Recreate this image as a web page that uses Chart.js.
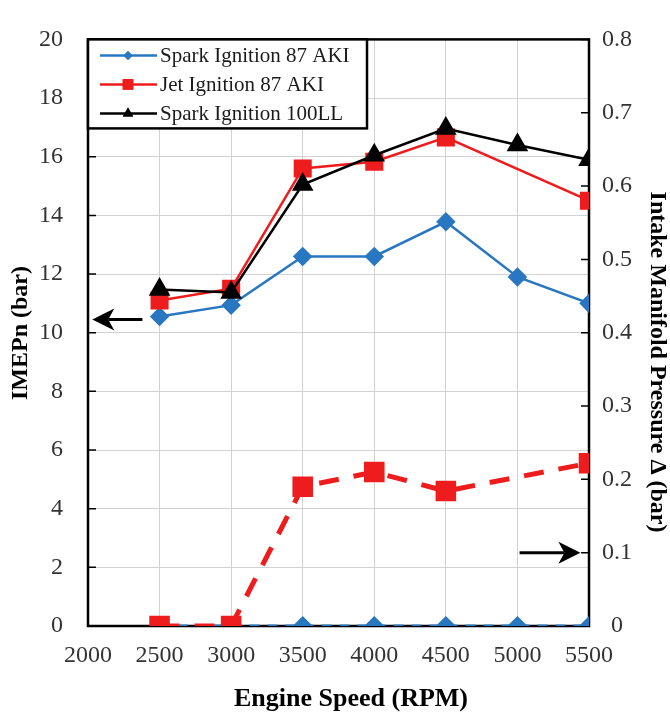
<!DOCTYPE html>
<html>
<head>
<meta charset="utf-8">
<script src="https://cdn.jsdelivr.net/npm/chart.js@4.4.0/dist/chart.umd.min.js"></script>
<style>
  html, body { margin: 0; padding: 0; background: #ffffff; }
  #wrap { width: 670px; height: 722px; position: relative; }
</style>
</head>
<body>
<div id="wrap"><canvas id="chart"></canvas></div>
<script>
// Engine speed sweep (RPM)
const engineSpeed = [2500, 3000, 3500, 4000, 4500, 5000, 5500];

// IMEPn (bar), left axis
const imepSpark87 = [10.55, 10.94, 12.6, 12.6, 13.78, 11.9, 11.0];
const imepJet87 = [11.1, 11.5, 15.6, 15.83, 16.66, null, 14.5];
const imepSpark100LL = [11.47, 11.37, 15.05, 16.05, 16.96, 16.4, 15.9];

// Intake manifold pressure delta (bar), right axis
const deltaSpark87 = [0, 0, 0, 0, 0, 0, 0];
const deltaJet87 = [0, 0, 0.19, 0.21, 0.184, null, 0.222];

// Axis ticks and labels
const xTickValues = [2000, 2500, 3000, 3500, 4000, 4500, 5000, 5500];
const leftTickLabels = ['0', '2', '4', '6', '8', '10', '12', '14', '16', '18', '20'];
const rightTickLabels = ['0', '0.1', '0.2', '0.3', '0.4', '0.5', '0.6', '0.7', '0.8'];

const seriesNames = ['Spark Ignition 87 AKI', 'Jet Ignition 87 AKI', 'Spark Ignition 100LL'];
const xTitle = 'Engine Speed (RPM)';
const leftTitle = 'IMEPn (bar)';
const rightTitle = 'Intake Manifold Pressure \u0394 (bar)';

// Arrows pointing each curve group to its axis: [x, y] start and end in data units
const arrowToLeftAxis = [[2380, 10.45], [2030, 10.45]];
const arrowToRightAxis = [[5015, 0.1], [5440, 0.1]];

const BLUE = '#2877c0';
const RED = '#ee1c1c';
const BLACK = '#000000';
const SERIF = "'Liberation Serif', 'Times New Roman', serif";

const pts = (ys) => engineSpeed.map((x, i) => ({ x: x, y: ys[i] }));

const framePlugin = {
  id: 'frame',
  beforeDatasetsDraw(chart) {
    const { ctx, chartArea: a, scales } = chart;
    ctx.save();
    ctx.strokeStyle = '#000';
    ctx.lineWidth = 2.5;
    ctx.strokeRect(a.left, a.top, a.right - a.left, a.bottom - a.top);
    // inner tick marks
    ctx.lineWidth = 1.5;
    ctx.beginPath();
    scales.y.ticks.forEach(t => {
      const py = scales.y.getPixelForValue(t.value);
      ctx.moveTo(a.left, py); ctx.lineTo(a.left + 8, py);
    });
    scales.y2.ticks.forEach(t => {
      const py = scales.y2.getPixelForValue(t.value);
      ctx.moveTo(a.right, py); ctx.lineTo(a.right - 8, py);
    });
    ctx.stroke();
    ctx.restore();
  }
};

function drawArrow(ctx, x0, y0, x1, y1) {
  const dir = Math.sign(x1 - x0);
  const headLen = 22, headHalf = 11, notch = 6;
  ctx.beginPath();
  ctx.moveTo(x0, y0);
  ctx.lineTo(x1 - dir * (headLen - notch), y1);
  ctx.lineWidth = 3;
  ctx.stroke();
  ctx.beginPath();
  ctx.moveTo(x1, y1);
  ctx.lineTo(x1 - dir * headLen, y1 - headHalf);
  ctx.lineTo(x1 - dir * (headLen - notch), y1);
  ctx.lineTo(x1 - dir * headLen, y1 + headHalf);
  ctx.closePath();
  ctx.fill();
}

const overlayPlugin = {
  id: 'overlay',
  afterDatasetsDraw(chart) {
    const { ctx, scales } = chart;
    ctx.save();
    ctx.strokeStyle = '#000';
    ctx.fillStyle = '#000';
    const L = arrowToLeftAxis, R = arrowToRightAxis;
    drawArrow(ctx,
      scales.x.getPixelForValue(L[0][0]), scales.y.getPixelForValue(L[0][1]),
      scales.x.getPixelForValue(L[1][0]), scales.y.getPixelForValue(L[1][1]));
    drawArrow(ctx,
      scales.x.getPixelForValue(R[0][0]), scales.y2.getPixelForValue(R[0][1]),
      scales.x.getPixelForValue(R[1][0]), scales.y2.getPixelForValue(R[1][1]));
    ctx.restore();
  },
  afterDraw(chart) {
    const { ctx, chartArea: a } = chart;
    ctx.save();
    // legend box
    const bx = a.left, by = a.top, bw = 279, bh = 89;
    ctx.fillStyle = '#fff';
    ctx.fillRect(bx, by, bw, bh);
    ctx.strokeStyle = '#000';
    ctx.lineWidth = 2.5;
    ctx.strokeRect(bx, by, bw, bh);
    ctx.font = '21px ' + SERIF;
    ctx.textBaseline = 'middle';
    ctx.textAlign = 'left';
    const rows = [16, 45, 74];
    for (let i = 0; i < 3; i++) {
      const ds = chart.data.datasets[i];
      const cy = by + rows[i];
      ctx.strokeStyle = ds.borderColor;
      ctx.lineWidth = 2.5;
      ctx.beginPath();
      ctx.moveTo(bx + 12, cy); ctx.lineTo(bx + 69, cy);
      ctx.stroke();
      ctx.fillStyle = ds.borderColor;
      Chart.helpers.drawPoint(ctx, {
        pointStyle: ds.pointStyle, radius: ds.legendRadius, rotation: 0, borderWidth: 0
      }, bx + 40, cy);
      ctx.fill();
      ctx.fillStyle = '#1a1a1a';
      ctx.fillText(seriesNames[i], bx + 72, cy + 1);
    }
    // axis titles
    ctx.fillStyle = '#000';
    ctx.font = 'bold 24px ' + SERIF;
    ctx.textAlign = 'center';
    ctx.textBaseline = 'middle';
    ctx.save();
    ctx.translate(21, 333);
    ctx.rotate(-Math.PI / 2);
    ctx.fillText(leftTitle, 0, 0);
    ctx.restore();
    ctx.save();
    ctx.translate(657, 362);
    ctx.rotate(Math.PI / 2);
    ctx.fillText(rightTitle, 0, 0);
    ctx.restore();
    ctx.font = 'bold 26px ' + SERIF;
    ctx.fillText(xTitle, 351, 699);
    ctx.restore();
  }
};

new Chart(document.getElementById('chart'), {
  type: 'line',
  data: {
    datasets: [
      {
        label: seriesNames[0], data: pts(imepSpark87), yAxisID: 'y', order: 2,
        borderColor: BLUE, backgroundColor: BLUE, borderWidth: 2.5,
        pointStyle: 'rectRot', pointRadius: 8, legendRadius: 4.5
      },
      {
        label: seriesNames[1], data: pts(imepJet87), yAxisID: 'y', order: 1, spanGaps: true,
        borderColor: RED, backgroundColor: RED, borderWidth: 2.5,
        pointStyle: 'rect', pointRadius: 11, legendRadius: 7.5
      },
      {
        label: seriesNames[2], data: pts(imepSpark100LL), yAxisID: 'y', order: 0,
        borderColor: BLACK, backgroundColor: BLACK, borderWidth: 2.5,
        pointStyle: 'triangle', pointRadius: 10, legendRadius: 6
      },
      {
        label: seriesNames[1] + ' \u0394', data: pts(deltaJet87), yAxisID: 'y2', order: 3, spanGaps: true,
        borderColor: RED, backgroundColor: RED, borderWidth: 5, borderDash: [20, 15],
        pointStyle: 'rect', pointRadius: 11
      },
      {
        label: seriesNames[0] + ' \u0394', data: pts(deltaSpark87), yAxisID: 'y2', order: 4,
        borderColor: BLUE, backgroundColor: BLUE, borderWidth: 3, borderDash: [10, 8],
        pointStyle: 'rectRot', pointRadius: 8
      }
    ]
  },
  options: {
    responsive: true,
    maintainAspectRatio: false,
    animation: false,
    layout: { padding: { top: 21, left: 0, right: 0, bottom: 0 } },
    plugins: { legend: { display: false }, tooltip: { enabled: false } },
    elements: { line: { tension: 0 }, point: { borderWidth: 0, hoverRadius: 0 } },
    scales: {
      x: {
        type: 'linear', min: 2000, max: 5500,
        afterBuildTicks: s => { s.ticks = xTickValues.map(v => ({ value: v })); },
        afterFit: s => { s.height = 96; },
        border: { display: false },
        grid: { color: '#d2d2d2', lineWidth: 1, drawTicks: false },
        ticks: {
          autoSkip: false, maxRotation: 0, padding: 15, color: '#333',
          font: { family: SERIF, size: 24 },
          callback: v => String(v)
        }
      },
      y: {
        position: 'left', min: 0, max: 20,
        ticks: {
          stepSize: 2, padding: 25, color: '#333',
          font: { family: SERIF, size: 24 },
          callback: v => leftTickLabels[Math.round(v / 2)]
        },
        afterFit: s => { s.width = 88; },
        border: { display: false },
        grid: { color: '#d2d2d2', lineWidth: 1, drawTicks: false }
      },
      y2: {
        position: 'right', min: 0, max: 0.8,
        ticks: {
          stepSize: 0.1, padding: 13, crossAlign: 'center', color: '#333',
          font: { family: SERIF, size: 24 },
          callback: v => rightTickLabels[Math.round(v * 10)]
        },
        afterFit: s => { s.width = 81; },
        border: { display: false },
        grid: { display: false, drawTicks: false }
      }
    }
  },
  plugins: [framePlugin, overlayPlugin]
});
</script>
</body>
</html>
